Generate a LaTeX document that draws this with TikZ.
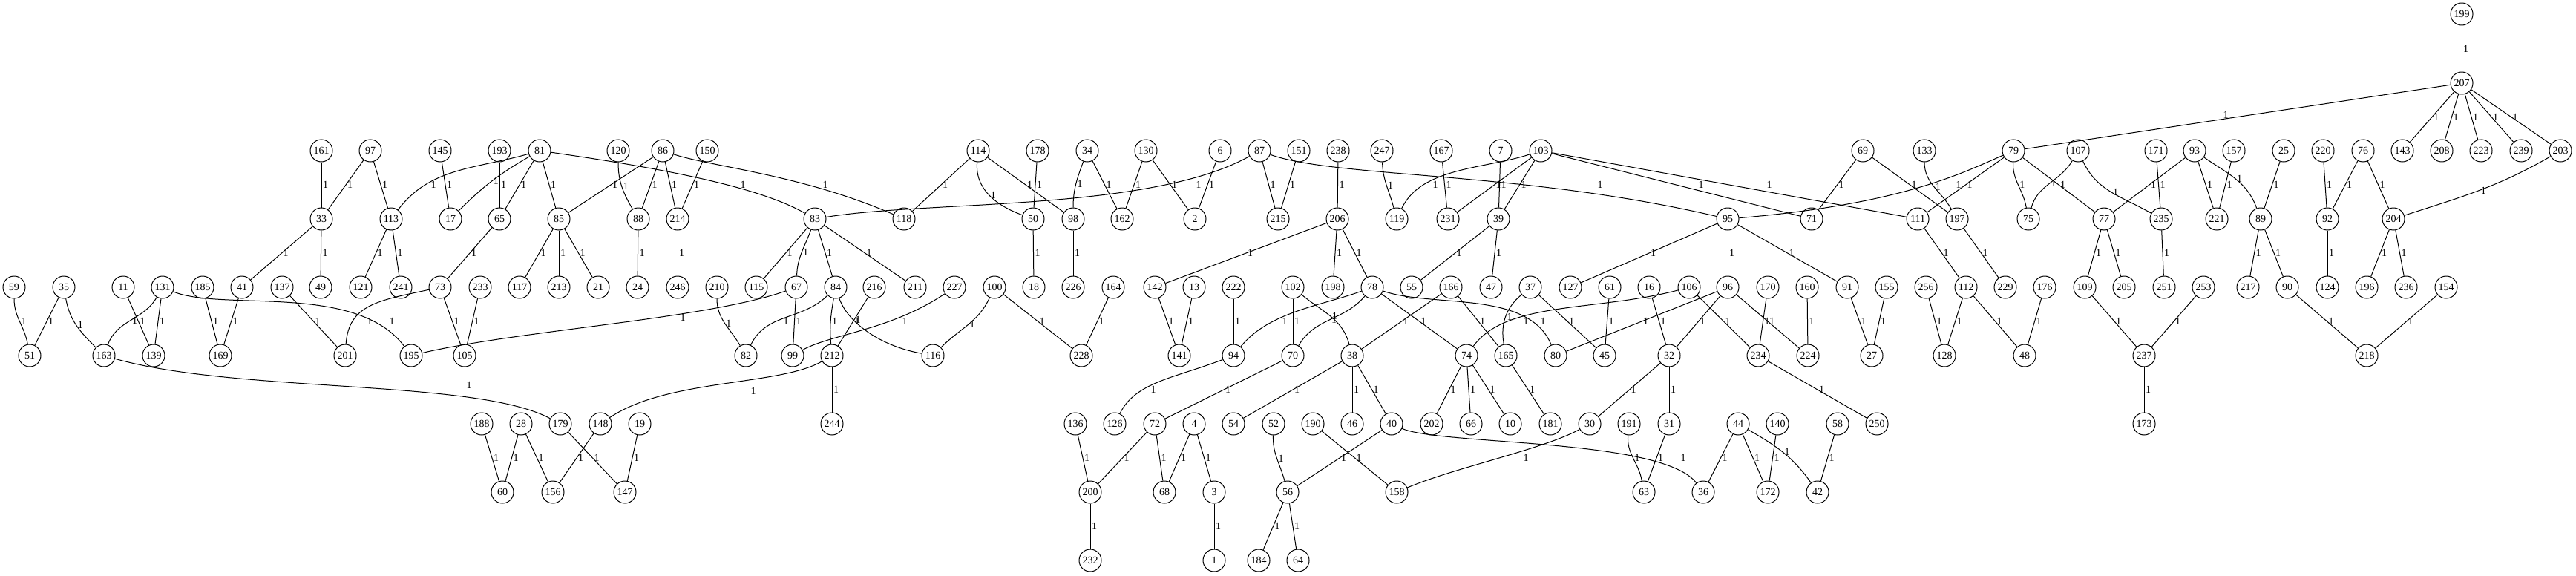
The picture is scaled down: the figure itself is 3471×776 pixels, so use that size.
\documentclass[tikz,border=0pt]{standalone}
\usepackage{fontspec}
\setmainfont{Liberation Serif}
\newcommand{\gfont}{\fontsize{14}{16}\selectfont}
\tikzset{
  v/.style={draw, circle, minimum size=30pt, inner sep=0pt, font=\gfont, line width=1pt},
  lb/.style={anchor=west, inner sep=1.5pt, font=\gfont},
  lc/.style={inner sep=0pt, font=\gfont},
  e/.style={line width=1pt}
}
\newcommand{\edg}[2]{\draw[e] (n#1) -- node[lb]{1} (n#2);}
\newcommand{\edc}[4]{\draw[e] (n#1) to[out=#3,in=#4] node[lb]{1} (n#2);}
\newcommand{\lab}[3]{\node[lc] (#1) at (#2,#3) {1};}
\begin{document}
\begin{tikzpicture}[x=1pt,y=-1pt]
\useasboundingbox (0,0) rectangle (3471,776);
% rows
\node[v] (n199) at (3317,19) {199};
\node[v] (n207) at (3317,112) {207};
\foreach \l/\x in {161/433,97/499,145/593,193/673,81/727,120/833,86/893,150/953,114/1318,178/1398,34/1465,130/1544,6/1644,87/1697,151/1750,238/1803,247/1862,167/1942,7/2022,103/2076,69/2510,133/2593,79/2713,107/2800,171/2905,93/2957,157/3010,25/3077,220/3130,76/3184,143/3237,208/3290,223/3343,239/3397,203/3450}
  \node[v] (n\l) at (\x,203) {\l};
\foreach \l/\x in {33/433,113/527,17/607,65/673,85/753,88/860,214/913,83/1098,118/1218,50/1392,98/1446,162/1512,2/1610,215/1722,206/1802,119/1882,231/1951,39/2019,95/2328,71/2441,111/2584,197/2637,75/2733,77/2835,235/2912,221/2987,89/3046,92/3136,204/3225}
  \node[v] (n\l) at (\x,295) {\l};
\foreach \l/\x in {59/19,35/86,11/166,131/219,185/273,41/326,137/380,49/432,121/486,241/540,73/593,233/647,117/700,213/753,21/806,24/859,246/913,210/966,115/1019,67/1073,84/1126,216/1178,211/1233,227/1286,100/1340,18/1393,226/1446,164/1500,142/1556,13/1609,222/1662,102/1742,198/1796,78/1849,55/1902,166/1955,47/2009,37/2062,127/2116,61/2169,16/2222,106/2276,96/2328,170/2382,160/2435,91/2489,155/2542,256/2595,112/2649,229/2702,176/2755,109/2809,205/2862,251/2916,253/2969,217/3029,90/3082,124/3136,196/3189,236/3242,154/3296}
  \node[v] (n\l) at (\x,387) {\l};
\foreach \l/\x in {51/40,163/140,139/207,169/297,201/465,195/554,105/626,82/1005,99/1068,212/1121,116/1257,228/1457,141/1589,94/1662,70/1742,38/1822,74/1976,165/2029,80/2096,45/2162,32/2249,234/2369,224/2436,27/2522,128/2620,48/2728,237/2889,218/3189}
  \node[v] (n\l) at (\x,479) {\l};
\foreach \l/\x in {188/649,28/702,179/755,148/809,19/862,244/1121,136/1449,126/1502,72/1556,4/1609,54/1662,52/1716,190/1769,46/1822,40/1875,202/1929,66/1982,10/2035,181/2089,30/2142,191/2195,31/2249,44/2342,140/2395,58/2476,250/2529,173/2889}
  \node[v] (n\l) at (\x,571) {\l};
\foreach \l/\x in {60/677,156/745,147/842,200/1469,68/1569,3/1636,56/1735,158/1882,63/2215,36/2295,172/2382,42/2449}
  \node[v] (n\l) at (\x,663) {\l};
\foreach \l/\x in {232/1469,1/1636,184/1696,64/1749}
  \node[v] (n\l) at (\x,755) {\l};
% straight edges
\edg{199}{207}\edg{207}{143}\edg{207}{208}\edg{207}{223}\edg{207}{239}\edg{207}{203}
\edg{161}{33}\edg{97}{33}\edg{97}{113}\edg{145}{17}\edg{193}{65}\edg{81}{65}\edg{81}{85}
\edg{86}{85}\edg{86}{88}\edg{86}{214}\edg{150}{214}\edg{114}{118}\edg{114}{98}\edg{178}{50}
\edg{34}{162}\edg{130}{162}\edg{130}{2}\edg{6}{2}\edg{87}{215}\edg{151}{215}\edg{238}{206}
\edg{167}{231}\edg{7}{39}\edg{103}{231}\edg{103}{39}\edg{69}{71}\edg{69}{197}\edg{79}{111}
\edg{79}{77}\edg{171}{235}\edg{93}{77}\edg{93}{221}\edg{157}{221}\edg{25}{89}\edg{220}{92}
\edg{76}{92}\edg{76}{204}
\edg{33}{41}\edg{33}{49}\edg{113}{121}\edg{113}{241}\edg{65}{73}\edg{85}{117}\edg{85}{213}
\edg{85}{21}\edg{88}{24}\edg{214}{246}\edg{83}{115}\edg{83}{84}\edg{83}{211}\edg{50}{18}
\edg{98}{226}\edg{206}{142}\edg{206}{198}\edg{206}{78}\edg{39}{55}\edg{39}{47}\edg{95}{127}
\edg{95}{96}\edg{95}{91}\edg{111}{112}\edg{197}{229}\edg{77}{109}\edg{77}{205}\edg{235}{251}
\edg{89}{217}\edg{89}{90}\edg{92}{124}\edg{204}{196}\edg{204}{236}
\edg{35}{51}\edg{11}{139}\edg{131}{139}\edg{185}{169}\edg{41}{169}\edg{137}{201}\edg{73}{105}
\edg{233}{105}\edg{67}{99}\edg{216}{212}\edg{100}{228}\edg{164}{228}\edg{142}{141}\edg{13}{141}
\edg{222}{94}\edg{102}{70}\edg{166}{38}\edg{78}{74}\edg{166}{165}\edg{96}{80}\edg{37}{45}
\edg{61}{45}\edg{16}{32}\edg{96}{32}\edg{106}{234}\edg{170}{234}\edg{96}{224}\edg{160}{224}
\edg{91}{27}\edg{155}{27}\edg{256}{128}\edg{112}{128}\edg{112}{48}\edg{176}{48}\edg{109}{237}
\edg{253}{237}\edg{90}{218}\edg{154}{218}
\edg{212}{244}\edg{70}{72}\edg{38}{54}\edg{38}{46}\edg{38}{40}\edg{74}{202}\edg{74}{66}
\edg{74}{10}\edg{165}{181}\edg{32}{30}\edg{32}{31}\edg{234}{250}\edg{237}{173}
\edg{188}{60}\edg{28}{60}\edg{28}{156}\edg{148}{156}\edg{179}{147}\edg{19}{147}\edg{136}{200}
\edg{72}{200}\edg{72}{68}\edg{4}{68}\edg{4}{3}\edg{40}{56}\edg{190}{158}\edg{31}{63}
\edg{44}{36}\edg{44}{172}\edg{140}{172}\edg{58}{42}
\edg{200}{232}\edg{3}{1}\edg{56}{184}\edg{56}{64}
% gently curved edges
\edc{81}{17}{-150}{45}\edc{120}{88}{-90}{120}\edc{114}{50}{-95}{160}\edc{34}{98}{-110}{90}
\edc{247}{119}{-88}{105}\edc{133}{197}{-90}{120}\edc{79}{75}{-92}{100}\edc{107}{75}{-120}{75}
\edc{107}{235}{-65}{150}\edc{93}{89}{-35}{110}\edc{203}{204}{-150}{18}\edc{83}{67}{-110}{88}
\edc{59}{51}{-90}{100}\edc{35}{163}{-80}{135}\edc{131}{163}{-120}{70}\edc{210}{82}{-90}{120}
\edc{84}{212}{-100}{95}\edc{100}{116}{-115}{45}\edc{78}{70}{-130}{60}\edc{102}{38}{-40}{105}
\edc{37}{165}{-140}{100}\edc{191}{63}{-95}{100}\edc{52}{56}{-92}{105}\edc{44}{42}{-30}{125}
% long curves with placed labels
\draw[e] (n81) .. controls (640,228) and (580,225) .. (n113); \lab{l81x113}{584}{249}
\draw[e] (n81) .. controls (880,225) and (1020,250) .. (n83); \lab{l81x83}{1001}{249}
\draw[e] (n86) .. controls (960,225) and (1080,235) .. (n118); \lab{l86x118}{1112}{249}
\draw[e] (n87) .. controls (1550,285) and (1250,270) .. (n83); \lab{l87x83}{1615}{249}
\draw[e] (n87) .. controls (1800,240) and (2050,230) .. (n95); \lab{l87x95}{2156}{249}
\draw[e] (n103) .. controls (2000,228) and (1915,225) .. (n119); \lab{l103x119}{1934}{249}
\draw[e] (n103) -- (n71); \lab{l103x71}{2292}{249}
\draw[e] (n103) -- (n111); \lab{l103x111}{2384}{249}
\draw[e] (n79) .. controls (2640,235) and (2560,275) .. (n95); \lab{l79x95}{2639}{249}
\draw[e] (n207) -- (n79); \lab{l207x79}{2999}{155}
\draw[e] (n73) .. controls (510,405) and (470,410) .. (n201); \lab{l73x201}{498}{433}
\draw[e] (n131) .. controls (300,420) and (480,380) .. (n195); \lab{l131x195}{528}{433}
\draw[e] (n195) .. controls (700,445) and (950,430) .. (n67); \lab{l195x67}{920}{428}
\draw[e] (n84) to[out=-135,in=65] (n82); \lab{l84x82}{1059}{433}
\draw[e] (n227) .. controls (1200,445) and (1120,450) .. (n99); \lab{l227x99}{1219}{433}
\draw[e] (n84) .. controls (1140,430) and (1180,465) .. (n116); \lab{l84x116}{1156}{431}
\draw[e] (n78) .. controls (1780,412) and (1710,420) .. (n94); \lab{l78x94}{1731}{433}
\draw[e] (n106) .. controls (2150,420) and (2030,405) .. (n74); \lab{l106x74}{2056}{433}
\draw[e] (n78) .. controls (1930,415) and (2060,390) .. (n80); \lab{l78x80}{2079}{433}
\draw[e] (n163) .. controls (320,530) and (640,510) .. (n179); \lab{l163x179}{632}{519}
\draw[e] (n212) .. controls (1050,520) and (900,510) .. (n148); \lab{l212x148}{1015}{527}
\draw[e] (n94) .. controls (1580,510) and (1530,515) .. (n126); \lab{l94x126}{1554}{525}
\draw[e] (n30) .. controls (2080,605) and (1960,630) .. (n158); \lab{l30x158}{2056}{617}
\draw[e] (n40) .. controls (1940,600) and (2240,590) .. (n36); \lab{l40x36}{2268}{617}
\end{tikzpicture}
\end{document}
